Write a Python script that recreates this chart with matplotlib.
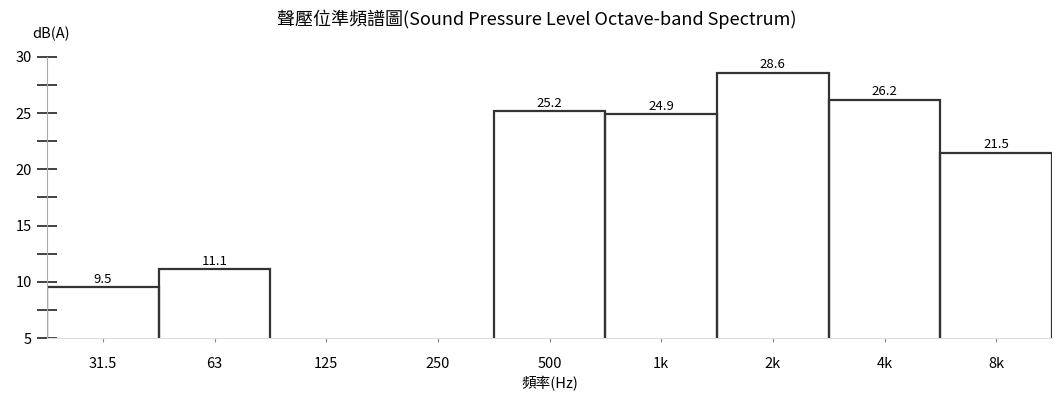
import matplotlib

matplotlib.use("Agg")
import matplotlib.pyplot as plt  # noqa: E402
import numpy as np  # noqa: E402
from matplotlib.ticker import MultipleLocator  # noqa: E402

plt.rcParams["font.family"] = ["Noto Sans CJK TC", "DejaVu Sans"]

# octave bands and levels (125 / 250 fall below the 5 dB floor)
bands = ["31.5", "63", "125", "250", "500", "1k", "2k", "4k", "8k"]
levels = [9.5, 11.1, 4.2, 4.6, 25.2, 24.9, 28.6, 26.2, 21.5]
y_ticks = [5, 10, 15, 20, 25, 30]

_EDGE = "#333333"

fig = plt.figure(figsize=(10.59, 4.01), dpi=100)
ax = fig.add_axes([47 / 1059, 1 - 338 / 401, (1052 - 47) / 1059, (338 - 57) / 401])

x = np.arange(len(bands))
ax.bar(x, levels, width=1.0, bottom=0, fill=False, edgecolor=_EDGE,
       linewidth=1.6, clip_on=True)

for xi, v in zip(x, levels):
    ax.annotate(f"{v:.1f}", (xi, v), xytext=(0, 1), textcoords="offset points",
                ha="center", va="bottom", fontsize=9.5, annotation_clip=True)

ax.set_xlim(-0.5, len(bands) - 0.5)
ax.set_ylim(5, 30)
ax.set_xticks(x)
ax.set_xticklabels(bands, fontsize=10.5)
ax.set_yticks(y_ticks)
ax.set_yticklabels([str(t) for t in y_ticks], fontsize=10.5)
ax.yaxis.set_minor_locator(MultipleLocator(2.5))
ax.tick_params(axis="y", which="both", direction="inout", length=14,
               width=1.2, color="#222222", pad=4)
ax.tick_params(axis="x", length=3, color="#888888", pad=11)

for side in ("top", "right"):
    ax.spines[side].set_visible(False)
ax.spines["left"].set_color("#aaaaaa")
ax.spines["bottom"].set_color("#dddddd")

ax.text(0.004, 1.055, "dB(A)", transform=ax.transAxes, ha="center",
        va="bottom", fontsize=10.5)
ax.set_xlabel("頻率(Hz)", fontsize=10.5, labelpad=3)
fig.text(0.507, 0.953, "聲壓位準頻譜圖(Sound Pressure Level Octave-band Spectrum)",
         ha="center", va="center", fontsize=13)

fig.savefig("out.png", dpi=100)
plt.close(fig)
